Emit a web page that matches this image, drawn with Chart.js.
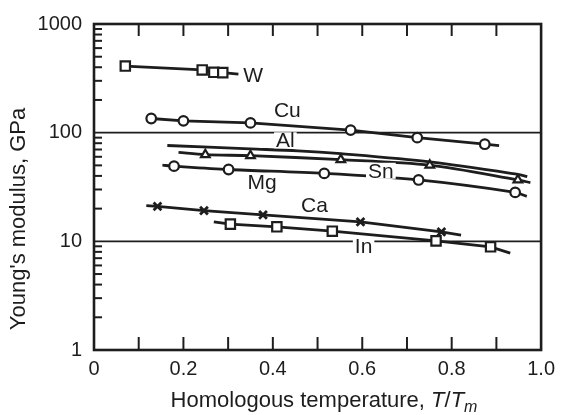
<!DOCTYPE html>
<html lang="en">
<head>
<meta charset="UTF-8">
<title>Young's modulus vs homologous temperature</title>
<script src="https://cdn.jsdelivr.net/npm/chart.js"></script>
<style>
  html, body { margin: 0; padding: 0; background: #fff; }
</style>
</head>
<body>
<canvas id="chart" width="562" height="415"></canvas>
<script>
// values (T/Tm, GPa)
const metals = ['W', 'Cu', 'Al', 'Sn', 'Mg', 'Ca', 'In'];

const wT  = [0.070, 0.242, 0.268, 0.288, 0.323];
const wE  = [410, 378, 359, 357, 345];

const cuT = [0.128, 0.200, 0.350, 0.574, 0.723, 0.874, 0.906];
const cuE = [135, 128.5, 123, 105.6, 90, 78.3, 76];

const alT = [0.164, 0.349, 0.456, 0.552, 0.751, 0.948, 0.969];
const alE = [76.2, 70.9, 68.1, 64.0, 53.8, 41.3, 39.4];

const snT = [0.189, 0.249, 0.350, 0.552, 0.751, 0.948, 0.976];
const snE = [65.9, 62.7, 61.4, 56.5, 50.2, 36.7, 34.7];

const mgT = [0.153, 0.179, 0.301, 0.515, 0.726, 0.942, 0.968];
const mgE = [50.2, 49.2, 45.8, 42.2, 36.7, 28.2, 25.9];

const caT = [0.117, 0.142, 0.246, 0.378, 0.596, 0.777, 0.821];
const caE = [21.3, 21.0, 19.2, 17.5, 15.1, 12.2, 11.4];

const inT = [0.268, 0.305, 0.409, 0.533, 0.765, 0.887, 0.931];
const inE = [15.1, 14.4, 13.6, 12.4, 10.1, 8.9, 7.8];

const xTickLabels = ['0', '0.2', '0.4', '0.6', '0.8', '1.0'];
const yTickLabels = ['1', '10', '100', '1000'];

// where each curve name is written (T/Tm, GPa)
const labelT = [0.356, 0.4325, 0.428, 0.6416, 0.376, 0.493, 0.603];
const labelE = [336, 159.3, 85.1, 44.6, 34.7, 21.5, 8.93];

const INK = '#1d1d1d';
const FONT = '"Liberation Sans", Arial, sans-serif';

function pts(xs, ys) { return xs.map((x, i) => ({ x: x, y: ys[i] })); }

// bare line ends (no symbol) per series
const bare = {
  W: [4], Cu: [6], Al: [0, 1, 2, 3, 4, 5, 6], Sn: [0, 6], Mg: [0, 6], Ca: [0, 6], In: [0, 6]
};

function series(name, xs, ys, style, r, tension) {
  return {
    label: name,
    data: pts(xs, ys),
    borderColor: INK,
    borderWidth: 2.8,
    tension: tension || 0,
    pointStyle: style,
    pointRadius: ctx => bare[name].includes(ctx.dataIndex) ? 0 : r,
    pointHoverRadius: ctx => bare[name].includes(ctx.dataIndex) ? 0 : r,
    pointBackgroundColor: '#fff',
    pointBorderColor: INK,
    pointBorderWidth: style === 'crossRot' ? 2.8 : 2.2
  };
}

const datasets = [
  series('W', wT, wE, 'rect', 6.6),
  series('Cu', cuT, cuE, 'circle', 4.8),
  series('Al', alT, alE, 'circle', 0, 0.3),
  series('Sn', snT, snE, 'triangle', 5, 0.3),
  series('Mg', mgT, mgE, 'circle', 4.8, 0.3),
  series('Ca', caT, caE, 'crossRot', 5.5),
  series('In', inT, inE, 'rect', 6.6)
];

function seg(ctx, x1, y1, x2, y2) {
  ctx.beginPath(); ctx.moveTo(x1, y1); ctx.lineTo(x2, y2); ctx.stroke();
}

const framePlugin = {
  id: 'frame',
  beforeDatasetsDraw(chart) {
    const { ctx, chartArea: a, scales: { x, y } } = chart;
    ctx.save();
    ctx.strokeStyle = INK;
    // horizontal rules at 10 and 100
    ctx.lineWidth = 1.6;
    [10, 100].forEach(v => {
      const py = y.getPixelForValue(v);
      seg(ctx, a.left, py, a.right, py);
    });
    // inward ticks on top and bottom
    ctx.lineWidth = 2;
    for (let i = 1; i < 10; i++) {
      const px = x.getPixelForValue(i / 10);
      seg(ctx, px, a.bottom, px, a.bottom - 13);
      seg(ctx, px, a.top, px, a.top + 12);
    }
    // minor log ticks on the left
    [1, 10, 100].forEach(d => {
      for (let m = 2; m < 10; m++) {
        const py = y.getPixelForValue(d * m);
        seg(ctx, a.left, py, a.left + 8, py);
      }
    });
    ctx.restore();
  },
  afterDatasetsDraw(chart) {
    const { ctx, chartArea: a, scales: { x, y } } = chart;
    ctx.save();
    ctx.font = '21px ' + FONT;
    ctx.textAlign = 'center';
    ctx.textBaseline = 'middle';
    metals.forEach((m, i) => {
      const px = x.getPixelForValue(labelT[i]);
      const py = y.getPixelForValue(labelE[i]);
      const w = ctx.measureText(m).width;
      ctx.fillStyle = '#fff';
      ctx.fillRect(px - w / 2 - 2, py - 8, w + 4, 16);
      ctx.fillStyle = INK;
      ctx.fillText(m, px, py + 1);
    });
    // frame
    ctx.strokeStyle = INK;
    ctx.lineWidth = 2.6;
    ctx.strokeRect(a.left, a.top, a.right - a.left, a.bottom - a.top);
    ctx.restore();
  },
  afterDraw(chart) {
    const { ctx } = chart;
    ctx.save();
    ctx.fillStyle = INK;
    // x title with italic T/Tm
    const parts = [
      ['Homologous temperature, ', '22px ' + FONT, 0],
      ['T', 'italic 22px ' + FONT, 0],
      ['/', '22px ' + FONT, 0],
      ['T', 'italic 22px ' + FONT, 0],
      ['m', 'italic 16px ' + FONT, 5]
    ];
    let total = 0;
    parts.forEach(p => { ctx.font = p[1]; total += ctx.measureText(p[0]).width; });
    let cx = 324 - total / 2;
    ctx.textBaseline = 'alphabetic';
    ctx.textAlign = 'left';
    parts.forEach(p => {
      ctx.font = p[1];
      ctx.fillText(p[0], cx, 407 + p[2]);
      cx += ctx.measureText(p[0]).width;
    });
    // y title
    ctx.translate(25, 219);
    ctx.rotate(-Math.PI / 2);
    ctx.font = '22px ' + FONT;
    ctx.textAlign = 'center';
    ctx.fillText("Young's modulus, GPa", 0, 0);
    ctx.restore();
  }
};

new Chart(document.getElementById('chart'), {
  type: 'line',
  data: { datasets: datasets },
  plugins: [framePlugin],
  options: {
    responsive: false,
    devicePixelRatio: 1,
    animation: false,
    layout: { padding: { top: 19, right: 16, left: 0, bottom: 0 } },
    plugins: { legend: { display: false }, tooltip: { enabled: false } },
    font: { family: FONT },
    scales: {
      x: {
        type: 'linear',
        min: 0, max: 1,
        grid: { display: false, drawTicks: false },
        border: { display: false },
        afterFit: s => { s.height = 65; },
        ticks: {
          stepSize: 0.2,
          autoSkip: false,
          maxRotation: 0,
          padding: 7,
          color: INK,
          font: { family: FONT, size: 20 },
          callback: v => xTickLabels[Math.round(v * 5)]
        }
      },
      y: {
        type: 'logarithmic',
        min: 1, max: 1000,
        grid: { display: false, drawTicks: false },
        border: { display: false },
        afterFit: s => { s.width = 94; },
        ticks: {
          autoSkip: false,
          padding: 12,
          color: INK,
          font: { family: FONT, size: 20 },
          callback: v => {
            const e = Math.log10(v);
            return Math.abs(e - Math.round(e)) < 1e-6 ? yTickLabels[Math.round(e)] : '';
          }
        }
      }
    }
  }
});
</script>
</body>
</html>
